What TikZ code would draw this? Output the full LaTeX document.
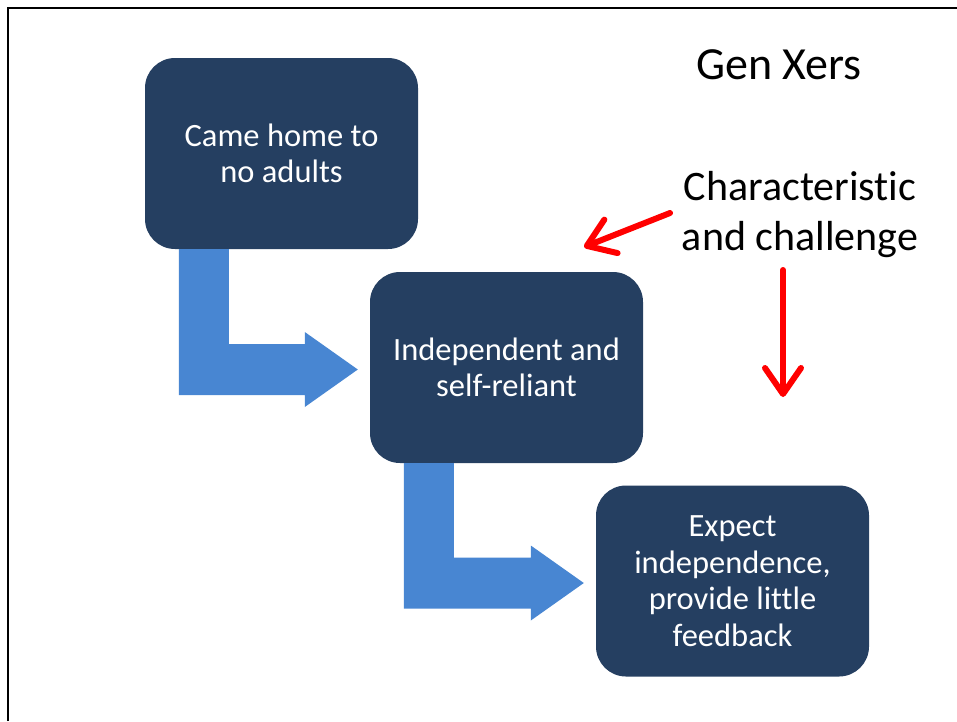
\documentclass[tikz,border=0pt]{standalone}
\usepackage{fontspec}
\setmainfont{Carlito}[Ligatures=NoCommon]
\usetikzlibrary{arrows.meta,calc,positioning}
\definecolor{boxblue}{HTML}{253F61}
\definecolor{bendblue}{HTML}{4886D2}
\newcommand{\bentarrow}[2]{%
  \fill[bendblue] ($(#1.south west)+(34,0)$) -- ++(50,0)
    |- ($(#2.west)+(-65,-23.5)$) -- ++(0,-12)
    -- ($(#2.west)+(-12,2)$)
    -- ($(#2.west)+(-65,39.5)$) -- ++(0,-12)
    -| ($(#1.south west)+(34,0)$) -- cycle;}

\begin{document}
\begin{tikzpicture}[x=1pt,y=-1pt,
  every node/.style = {align=center},
  stepbox/.style = {fill=boxblue, rounded corners=30pt, text=white,
    minimum width=273pt, minimum height=191pt, inner sep=0pt,
    font=\fontsize{32.5}{36.5}\selectfont},
  bigtext/.style = {font=\fontsize{42}{50}\selectfont},
  redarrow/.style = {draw=red, line width=6pt, line cap=round,
    -{Straight Barb[length=26pt,width=36pt,round]}}]

\useasboundingbox (0,0) rectangle (957,721);
\draw[line width=2.5pt] (8,721) -- (8,8) -- (957,8);

\node[stepbox] (home) at (281.5,153.5) {Came home to\\no adults};
\node[stepbox] (indep) at (506.5,367.5) {Independent and\\self-reliant};
\node[stepbox] (expect) at (732.5,581) {Expect\\independence,\\provide little\\feedback};

\bentarrow{home}{indep}
\bentarrow{indep}{expect}

\node[bigtext, font=\fontsize{46}{50}\selectfont] (genx) at (779,65) {Gen Xers};
\node[bigtext] (charac) at (800,215) {Characteristic\\and challenge};

\coordinate (tipleft) at (584,247);
\coordinate (tipdown) at (783,397);
\draw[redarrow] (670,213) -- (tipleft);
\draw[redarrow] (783,270) -- (tipdown);
\end{tikzpicture}
\end{document}
